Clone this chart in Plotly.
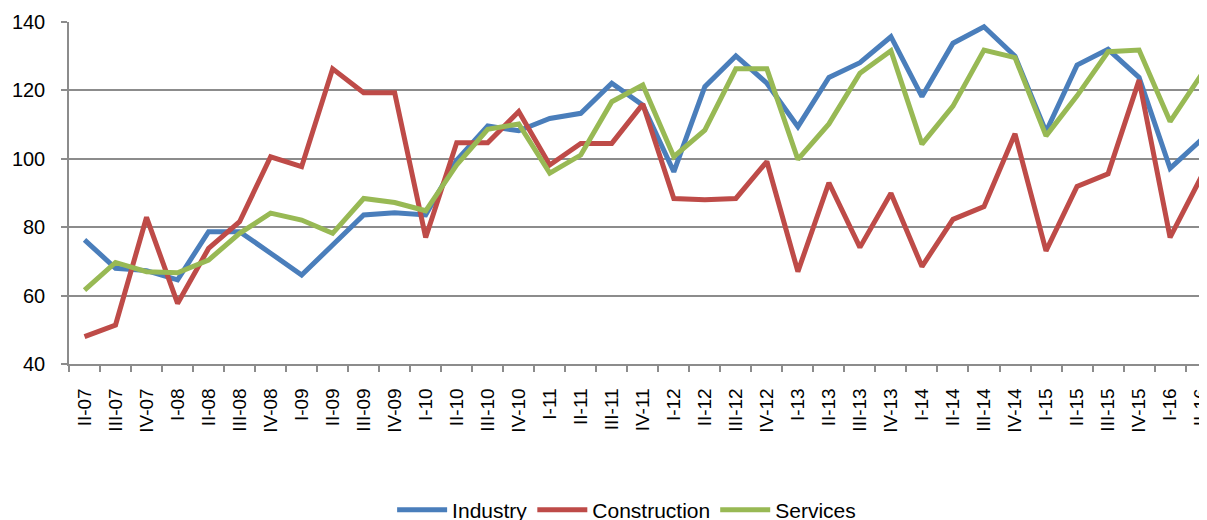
import plotly.graph_objects as go

categories = ["II-07", "III-07", "IV-07",
              "I-08", "II-08", "III-08", "IV-08",
              "I-09", "II-09", "III-09", "IV-09",
              "I-10", "II-10", "III-10", "IV-10",
              "I-11", "II-11", "III-11", "IV-11",
              "I-12", "II-12", "III-12", "IV-12",
              "I-13", "II-13", "III-13", "IV-13",
              "I-14", "II-14", "III-14", "IV-14",
              "I-15", "II-15", "III-15", "IV-15",
              "I-16", "II-16"]

industry = [76.3, 68.0, 67.3, 64.6, 78.7, 78.7, 72.4, 66.0, 74.8, 83.6, 84.2,
            83.6, 99.6, 109.6, 108.2, 111.8, 113.3, 122.1, 115.7,
            96.2, 121.1, 130.1, 122.1, 109.4, 123.8, 128.1, 135.7,
            118.2, 133.8, 138.6, 130.0, 107.9, 127.4, 132.0, 123.8,
            97.2, 105.5]

construction = [48.0, 51.4, 82.9, 57.7, 73.8, 81.6, 100.6, 97.7, 126.3, 119.3, 119.3,
                77.0, 104.7, 104.7, 113.8, 98.2, 104.5, 104.5, 116.0,
                88.4, 88.0, 88.4, 99.2, 67.0, 93.0, 74.1, 89.9,
                68.5, 82.3, 86.0, 107.3, 73.1, 91.9, 95.6, 123.0,
                77.0, 94.6]

services = [61.6, 69.7, 67.0, 66.7, 70.4, 78.2, 84.1, 82.1, 78.2, 88.4, 87.2,
            84.8, 98.2, 108.6, 110.2, 95.8, 101.1, 116.7, 121.6,
            100.6, 108.4, 126.3, 126.3, 99.8, 110.2, 125.0, 131.6,
            104.3, 115.4, 131.8, 129.6, 106.7, 118.4, 131.3, 131.8,
            110.9, 124.5]

series = [("Industry", industry, "#4A7EBB"),
          ("Construction", construction, "#BE4B48"),
          ("Services", services, "#98B954")]

fig = go.Figure()
for name, vals, color in series:
    fig.add_trace(go.Scatter(x=categories, y=vals, name=name, mode="lines",
                             line=dict(color=color, width=5)))

grid = "#8C8C8C"
fig.update_layout(
    width=1199, height=512,
    margin=dict(l=61, r=0, t=14, b=156, autoexpand=False),
    paper_bgcolor="white", plot_bgcolor="white",
    font=dict(family="Liberation Sans, Arial, sans-serif", size=20, color="black"),
    showlegend=True,
    legend=dict(orientation="h", x=0.49, xanchor="center", y=-0.427, yanchor="middle",
                font=dict(size=21), itemwidth=50, tracegroupgap=0),
    xaxis=dict(type="category", range=[-0.5, 36.19], tickangle=-90, automargin=False,
               showgrid=False, showline=True, linecolor=grid, linewidth=1.5,
               ticks="outside", tickson="boundaries", ticklen=6, tickcolor=grid,
               tickwidth=1.5, tickfont=dict(size=19), ticklabelstandoff=15,
               ticklabeloverflow="allow"),
    yaxis=dict(range=[40, 140], dtick=20, showgrid=True, gridcolor=grid, gridwidth=1.5,
               showline=True, linecolor=grid, linewidth=1.5, zeroline=False, automargin=False,
               ticks="outside", ticklen=6, tickcolor=grid, tickwidth=1.5,
               tickfont=dict(size=20), ticklabelstandoff=12),
)

fig.write_html("out.html")
